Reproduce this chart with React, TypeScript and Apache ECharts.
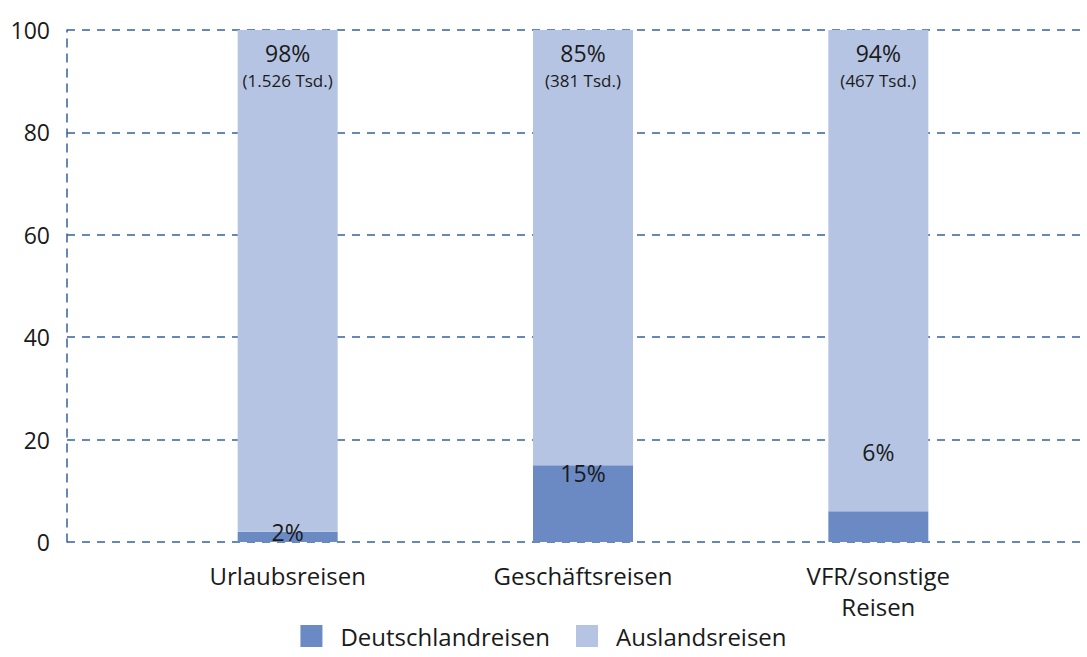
import React, { useEffect, useRef } from "react";
import * as echarts from "echarts";

const categories = ["Urlaubsreisen", "Geschäftsreisen", "VFR/sonstige\nReisen"];
const deutschland = [2, 15, 6];
const ausland = [98, 85, 94];
const auslandTsd = ["1.526 Tsd.", "381 Tsd.", "467 Tsd."];
const yTicks = [0, 20, 40, 60, 80, 100];

const FONT = "'Open Sans', 'Noto Sans', sans-serif";
const DARK = "#6b8ac4";
const LIGHT = "#b6c4e3";
const GRIDC = "#3562a2";
const TXT = "#1a1a1a";

export default function App() {
  const ref = useRef<HTMLDivElement>(null);
  useEffect(() => {
    const chart = echarts.init(ref.current!, undefined, { renderer: "svg" });
    const darkLabels = [
      { position: "top", distance: -12 },
      { position: "insideTop", distance: -4 },
      { position: "top", distance: 48 },
    ];
    chart.setOption({
      animation: false,
      textStyle: { fontFamily: FONT },
      legend: {
        bottom: 4,
        left: "center",
        itemWidth: 22,
        itemHeight: 22,
        itemGap: 26,
        icon: "rect",
        textStyle: { fontSize: 24, color: TXT, fontFamily: FONT, padding: [0, 0, 0, 13] },
        data: ["Deutschlandreisen", "Auslandsreisen"],
      },
      grid: [
        { left: 67, right: 4, top: 30, bottom: 115, containLabel: false },
        { left: 140, right: 61, top: 30, bottom: 115, containLabel: false },
      ],
      xAxis: [
        { type: "category", gridIndex: 0, data: categories, show: false },
        {
          type: "category",
          gridIndex: 1,
          data: categories,
          axisLine: { show: false },
          axisTick: { show: false },
          axisLabel: { fontSize: 24, color: TXT, fontFamily: FONT, margin: 18, lineHeight: 31 },
        },
      ],
      yAxis: [
        {
          type: "value",
          gridIndex: 0,
          min: 0,
          max: 100,
          interval: 20,
          axisLine: { show: true, lineStyle: { color: GRIDC, type: [8, 7], width: 1.5 } },
          axisTick: { show: false },
          axisLabel: { fontSize: 23, color: TXT, fontFamily: FONT, margin: 17, formatter: (v: number) => (yTicks.includes(v) ? String(v) : "") },
          splitLine: { show: true, lineStyle: { color: GRIDC, type: [8, 7], width: 1.5 } },
        },
        { type: "value", gridIndex: 1, min: 0, max: 100, interval: 20, show: false },
      ],
      series: [
        {
          name: "Deutschlandreisen",
          type: "bar",
          stack: "a",
          xAxisIndex: 1,
          yAxisIndex: 1,
          barWidth: 100,
          itemStyle: { color: DARK },
          data: deutschland.map((v, i) => ({
            value: v,
            label: {
              show: true,
              position: darkLabels[i].position,
              distance: darkLabels[i].distance,
              formatter: v + "%",
              fontSize: 23,
              color: TXT,
              fontFamily: FONT,
            },
          })),
        },
        {
          name: "Auslandsreisen",
          type: "bar",
          stack: "a",
          xAxisIndex: 1,
          yAxisIndex: 1,
          barWidth: 100,
          itemStyle: { color: LIGHT },
          data: ausland.map((v, i) => ({
            value: v,
            label: {
              show: true,
              position: "insideTop",
              distance: 8,
              formatter: "{a|" + v + "%}\n{b|(" + auslandTsd[i] + ")}",
              rich: {
                a: { fontSize: 23, color: TXT, fontFamily: FONT, lineHeight: 30 },
                b: { fontSize: 17, color: TXT, fontFamily: FONT, lineHeight: 24 },
              },
            },
          })),
        },
      ],
    });
    return () => chart.dispose();
  }, []);
  return <div ref={ref} style={{ width: 1087, height: 657, position: "absolute", left: 0, top: 0 }} />;
}
